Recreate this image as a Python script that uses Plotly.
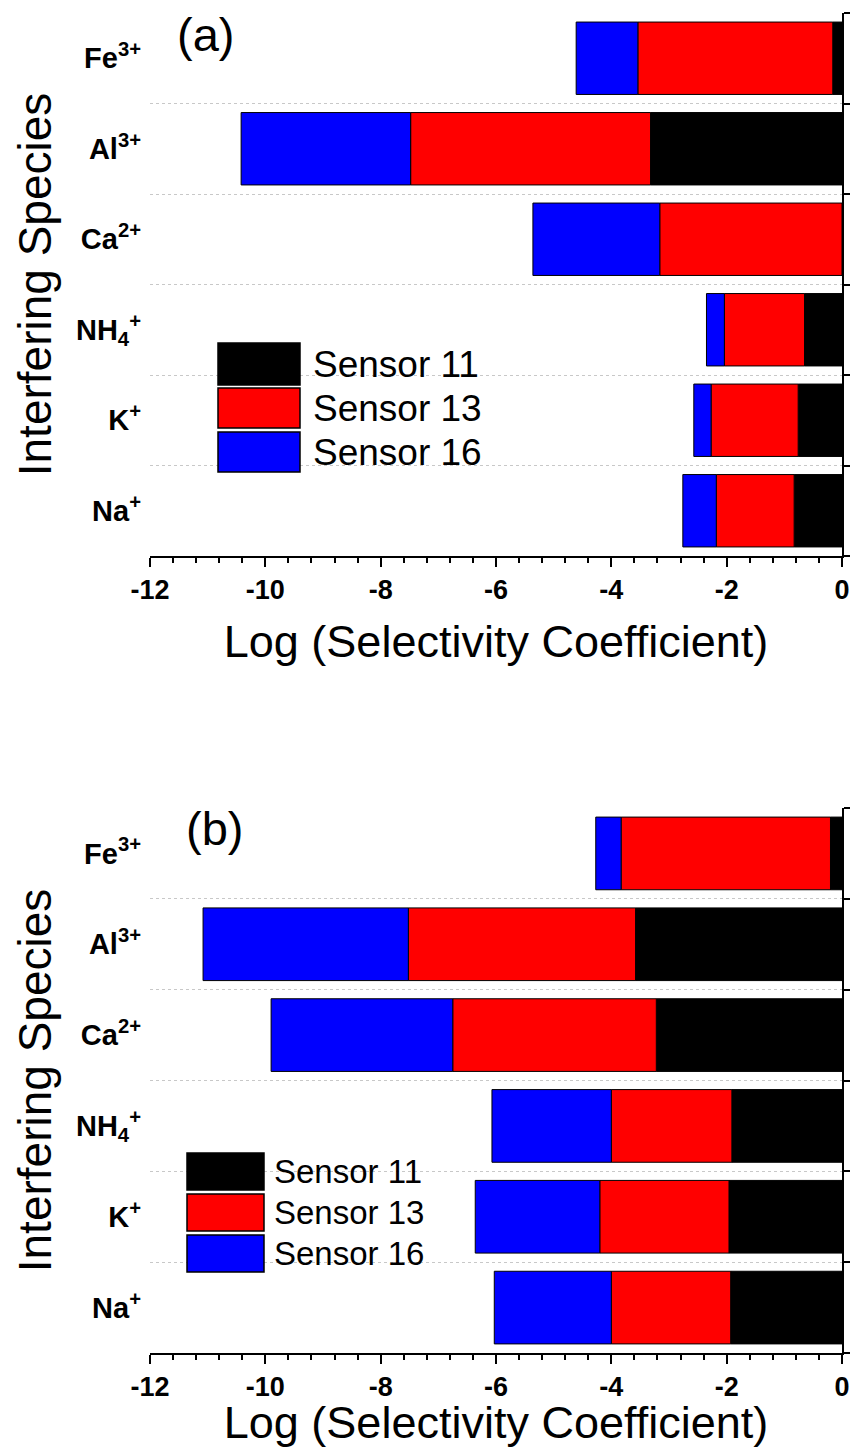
import plotly.graph_objects as go

# ---------------- data ----------------
species = ["Fe<sup>3+</sup>", "Al<sup>3+</sup>", "Ca<sup>2+</sup>",
           "NH<sub>4</sub><sup>+</sup>", "K<sup>+</sup>", "Na<sup>+</sup>"]
sensor_names = ["Sensor 11", "Sensor 13", "Sensor 16"]
sensor_colors = ["#000000", "#FF0000", "#0000FF"]

# panel (a): stacked segment values (log selectivity), top-to-bottom order
a_sensor11 = [-0.16, -3.32, 0.0, -0.65, -0.76, -0.83]
a_sensor13 = [-3.38, -4.16, -3.16, -1.39, -1.51, -1.35]
a_sensor16 = [-1.07, -2.94, -2.20, -0.31, -0.30, -0.58]

# panel (b)
b_sensor11 = [-0.20, -3.58, -3.22, -1.91, -1.96, -1.93]
b_sensor13 = [-3.63, -3.94, -3.53, -2.09, -2.24, -2.07]
b_sensor16 = [-0.44, -3.56, -3.15, -2.07, -2.16, -2.03]

x_tickvals = [-12, -10, -8, -6, -4, -2, 0]
x_ticktext = ["-12", "-10", "-8", "-6", "-4", "-2", "0"]
x_title = "Log (Selectivity Coefficient)"
y_title = "Interfering Species"
panel_labels = ["(a)", "(b)"]

# ---------------- layout helpers ----------------
W, H = 854, 1448
ML = 150
MR = W - 842
PW = W - ML - MR
FONT = "Arial, Liberation Sans, sans-serif"


def px_x(p):
    return (p - ML) / PW


def px_y(p):
    return 1 - p / H


fig = go.Figure()

panels = [
    (dict(s11=a_sensor11, s13=a_sensor13, s16=a_sensor16), "x", "y"),
    (dict(s11=b_sensor11, s13=b_sensor13, s16=b_sensor16), "x2", "y2"),
]
for data, xa, ya in panels:
    for name, key, col in zip(sensor_names, ["s11", "s13", "s16"], sensor_colors):
        fig.add_trace(go.Bar(
            x=data[key], y=species, orientation="h", name=name,
            marker=dict(color=col, line=dict(color="#000000", width=1)),
            xaxis=xa, yaxis=ya, showlegend=False,
        ))

# empty helper traces so the right-hand axis lines are drawn
fig.add_trace(go.Scatter(x=[], y=[], xaxis="x", yaxis="y3", showlegend=False, hoverinfo="skip"))
fig.add_trace(go.Scatter(x=[], y=[], xaxis="x2", yaxis="y4", showlegend=False, hoverinfo="skip"))

dom_a = [px_y(556), px_y(13)]
dom_b = [px_y(1353), px_y(808)]


def xaxis_cfg(anchor, standoff):
    return dict(
        anchor=anchor, domain=[0, 1], range=[-12, 0],
        tickmode="array", tickvals=x_tickvals, ticktext=x_ticktext,
        tickfont=dict(family=FONT, size=27, color="#000000", weight="bold"),
        ticks="outside", ticklen=9, tickwidth=2, tickcolor="#000000",
        minor=dict(tickmode="linear", tick0=-12, dtick=0.4, ticks="outside",
                   ticklen=5, tickwidth=2, tickcolor="#000000", showgrid=False),
        showline=True, linewidth=2, linecolor="#000000",
        showgrid=False, zeroline=False, automargin=False,
        title=dict(text=x_title, font=dict(family=FONT, size=45, color="#000000"),
                   standoff=standoff),
    )


def yaxis_cfg(anchor, domain):
    return dict(
        anchor=anchor, domain=domain, type="category",
        categoryorder="array", categoryarray=species, range=[5.5, -0.5],
        tickson="boundaries", ticks="", showline=False,
        showgrid=True, gridcolor="#c8c8c8", griddash="dot", gridwidth=1,
        tickfont=dict(family=FONT, size=29, color="#000000", weight="bold"),
        ticklabelstandoff=8, zeroline=False, automargin=False,
        title=dict(text=y_title, font=dict(family=FONT, size=46, color="#000000"),
                   standoff=9),
    )


def right_axis_cfg(overlay, anchor, domain):
    return dict(
        overlaying=overlay, anchor=anchor, side="right", domain=domain,
        range=[-0.5, 5.5], tickmode="array",
        tickvals=[-0.5, 0.5, 1.5, 2.5, 3.5, 4.5, 5.5],
        showticklabels=False, ticks="outside", ticklen=6, tickwidth=2,
        tickcolor="#000000", showline=True, linewidth=2, linecolor="#000000",
        showgrid=False, zeroline=False, automargin=False,
    )


fig.update_layout(
    width=W, height=H,
    margin=dict(l=ML, r=MR, t=0, b=0),
    paper_bgcolor="#ffffff", plot_bgcolor="#ffffff",
    barmode="relative", bargap=0.2,
    font=dict(family=FONT, color="#000000"),
    xaxis=xaxis_cfg("y", 21),
    yaxis=yaxis_cfg("x", dom_a),
    xaxis2=xaxis_cfg("y2", 4),
    yaxis2=yaxis_cfg("x2", dom_b),
    yaxis3=right_axis_cfg("y", "x", dom_a),
    yaxis4=right_axis_cfg("y2", "x2", dom_b),
    showlegend=False,
)

# panel labels
for lab, (px, py) in zip(panel_labels, [(205, 35), (214, 828)]):
    fig.add_annotation(text=lab, x=px_x(px), y=px_y(py), xref="paper", yref="paper",
                       xanchor="center", yanchor="middle", showarrow=False,
                       font=dict(family=FONT, size=47, color="#000000"))

# custom legends (large swatches as in the original)
legend_specs = [
    dict(x0=218, x1=300, rows=[(343, 385), (388, 428), (432, 472)], tx=311, fs=37),
    dict(x0=187, x1=264, rows=[(1153, 1190), (1194, 1231), (1235, 1272)], tx=272, fs=33),
]
for spec in legend_specs:
    for (y0, y1), name, col in zip(spec["rows"], sensor_names, sensor_colors):
        fig.add_shape(type="rect", xref="paper", yref="paper",
                      x0=px_x(spec["x0"]), x1=px_x(spec["x1"]),
                      y0=px_y(y1), y1=px_y(y0),
                      fillcolor=col, line=dict(color="#000000", width=1.5))
        fig.add_annotation(text=name, x=px_x(spec["tx"]), y=px_y((y0 + y1) / 2),
                           xref="paper", yref="paper", xanchor="left", yanchor="middle",
                           showarrow=False,
                           font=dict(family=FONT, size=spec["fs"], color="#000000"))

# remove the default page margin so the figure fills the 854x1448 window exactly
fig.write_html("out.html", config={"displayModeBar": False},
               post_script="document.body.style.margin='0';")
